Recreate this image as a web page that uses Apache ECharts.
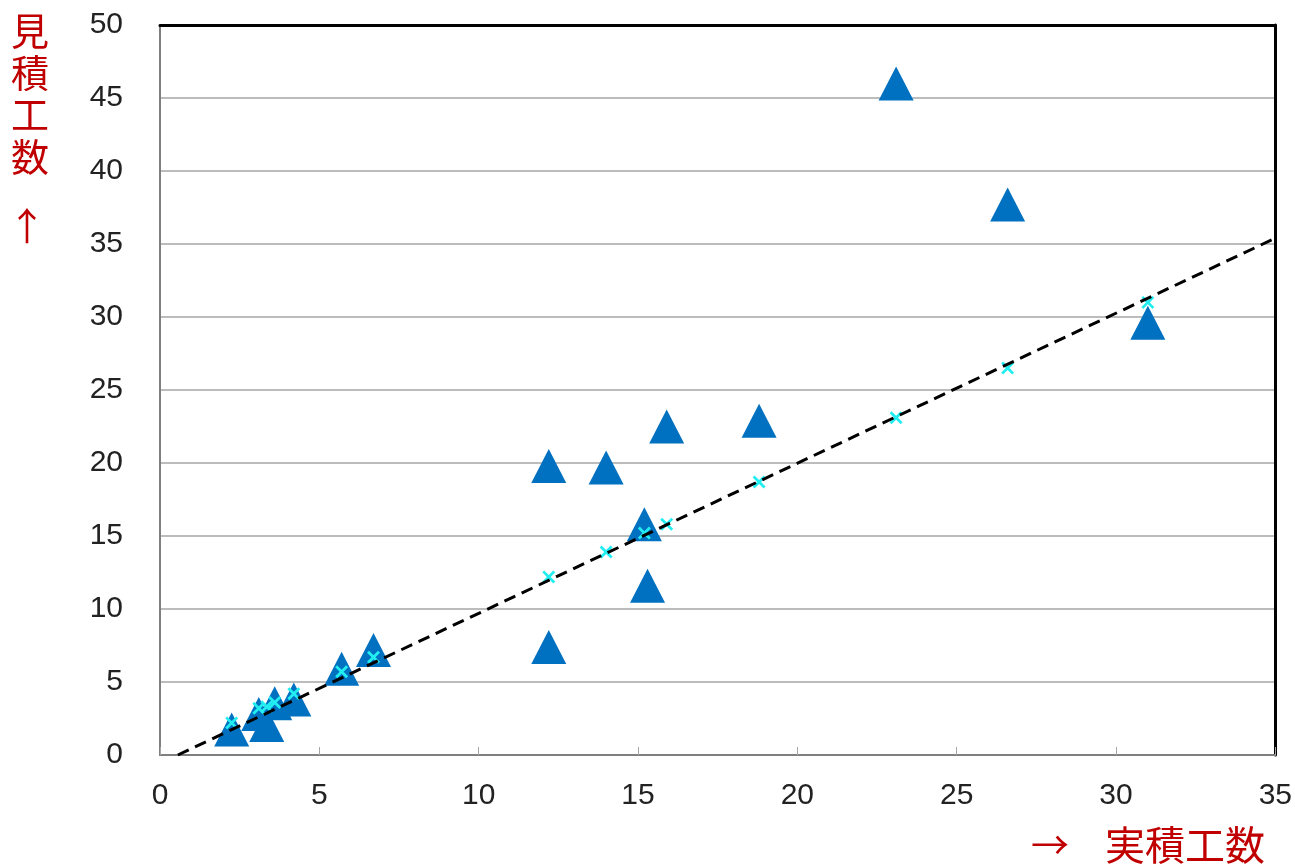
<!DOCTYPE html>
<html>
<head>
<meta charset="utf-8">
<script src="https://cdn.jsdelivr.net/npm/echarts@6/dist/echarts.min.js"></script>
<style>
html,body{margin:0;padding:0;background:#fff;overflow:hidden;}
#chart{width:1295px;height:866px;}
</style>
</head>
<body>
<div id="chart"></div>
<script>
// Data
var triX = [2.25, 3.1, 3.35, 3.6, 4.2, 5.7, 6.7, 12.2, 12.2, 14.0, 15.2, 15.3, 15.9, 18.8, 23.1, 26.6, 31.0];
var triY = [1.75, 2.8, 2.05, 3.55, 3.8, 5.9, 7.2, 19.8, 7.4, 19.7, 15.8, 11.6, 22.5, 22.9, 46.0, 37.7, 29.6];
var crossX = [2.25, 3.1, 3.35, 3.6, 4.2, 5.7, 6.7, 12.2, 14.0, 15.2, 15.9, 18.8, 23.1, 26.6, 31.0];
var crossY = [2.2, 3.2, 3.3, 3.6, 4.2, 5.7, 6.7, 12.2, 13.9, 15.2, 15.8, 18.7, 23.1, 26.5, 31.0];
var trendX = [0.56, 35];
var trendY = [0, 35.4];
var xTicks = [0, 5, 10, 15, 20, 25, 30, 35];
var yTicks = [0, 5, 10, 15, 20, 25, 30, 35, 40, 45, 50];
var yTitle = '見積工数';
var yArrow = '↑';
var xArrow = '→';
var xTitle = '実積工数';

function pairs(xs, ys){ return xs.map(function(x,i){ return [x, ys[i]]; }); }

var chart = echarts.init(document.getElementById('chart'), null, {renderer:'canvas', width:1295, height:866});
var labelFont = {color:'#222', fontSize:30, fontFamily:'Liberation Sans, Arial, sans-serif'};
var crossPath = 'path://M1.5,0 L5,3.5 L8.5,0 L10,1.5 L6.5,5 L10,8.5 L8.5,10 L5,6.5 L1.5,10 L0,8.5 L3.5,5 L0,1.5 Z';
var cjk = 'Noto Sans CJK JP, sans-serif';

chart.setOption({
  animation:false,
  backgroundColor:'#fff',
  grid:{left:160, right:13, top:25, bottom:111, containLabel:false},
  xAxis:[{
    type:'value', min:xTicks[0], max:xTicks[xTicks.length-1], interval:5,
    axisLine:{show:true, onZero:false, lineStyle:{color:'#7f7f7f', width:2}},
    axisTick:{show:true, inside:true, length:8, lineStyle:{color:'#a6a6a6', width:1}},
    axisLabel:Object.assign({margin:26}, labelFont),
    splitLine:{show:false}
  },{
    type:'value', position:'top', min:xTicks[0], max:xTicks[xTicks.length-1],
    axisLine:{show:true, onZero:false, lineStyle:{color:'#000', width:3}},
    axisTick:{show:false}, axisLabel:{show:false}, splitLine:{show:false}
  }],
  yAxis:[{
    type:'value', min:yTicks[0], max:yTicks[yTicks.length-1], interval:5,
    axisLine:{show:true, onZero:false, lineStyle:{color:'#7f7f7f', width:2}},
    axisTick:{show:false},
    axisLabel:Object.assign({margin:37}, labelFont),
    splitLine:{show:true, lineStyle:{color:'#a6a6a6', width:1.5}}
  },{
    type:'value', position:'right', min:yTicks[0], max:yTicks[yTicks.length-1],
    axisLine:{show:true, onZero:false, lineStyle:{color:'#000', width:3}},
    axisTick:{show:false}, axisLabel:{show:false}, splitLine:{show:false}
  }],
  series:[{
    type:'scatter', z:2,
    data:pairs(triX, triY),
    symbol:'triangle', symbolSize:[35,34],
    itemStyle:{color:'#0070C0', opacity:1}
  },{
    type:'scatter', z:3,
    data:pairs(crossX, crossY),
    symbol:crossPath, symbolSize:13,
    itemStyle:{color:'#22EEF2', opacity:1}
  },{
    type:'line', z:4,
    data:pairs(trendX, trendY),
    symbol:'none', silent:true,
    lineStyle:{color:'#000', width:3, type:[12,7]}
  }],
  graphic:[{
    type:'text', left:11, top:10,
    style:{text:yTitle.split('').join('\n'), fill:'#C00000', fontSize:38, lineHeight:42, fontFamily:cjk}
  },{
    type:'text', left:8, top:207,
    style:{text:yArrow, fill:'#C00000', fontSize:38, fontFamily:cjk}
  },{
    type:'text', left:1031, top:826,
    style:{text:xArrow, fill:'#C00000', fontSize:38, fontFamily:cjk}
  },{
    type:'text', left:1105, top:825,
    style:{text:xTitle, fill:'#C00000', fontSize:40, fontFamily:cjk}
  }]
});
</script>
</body>
</html>
